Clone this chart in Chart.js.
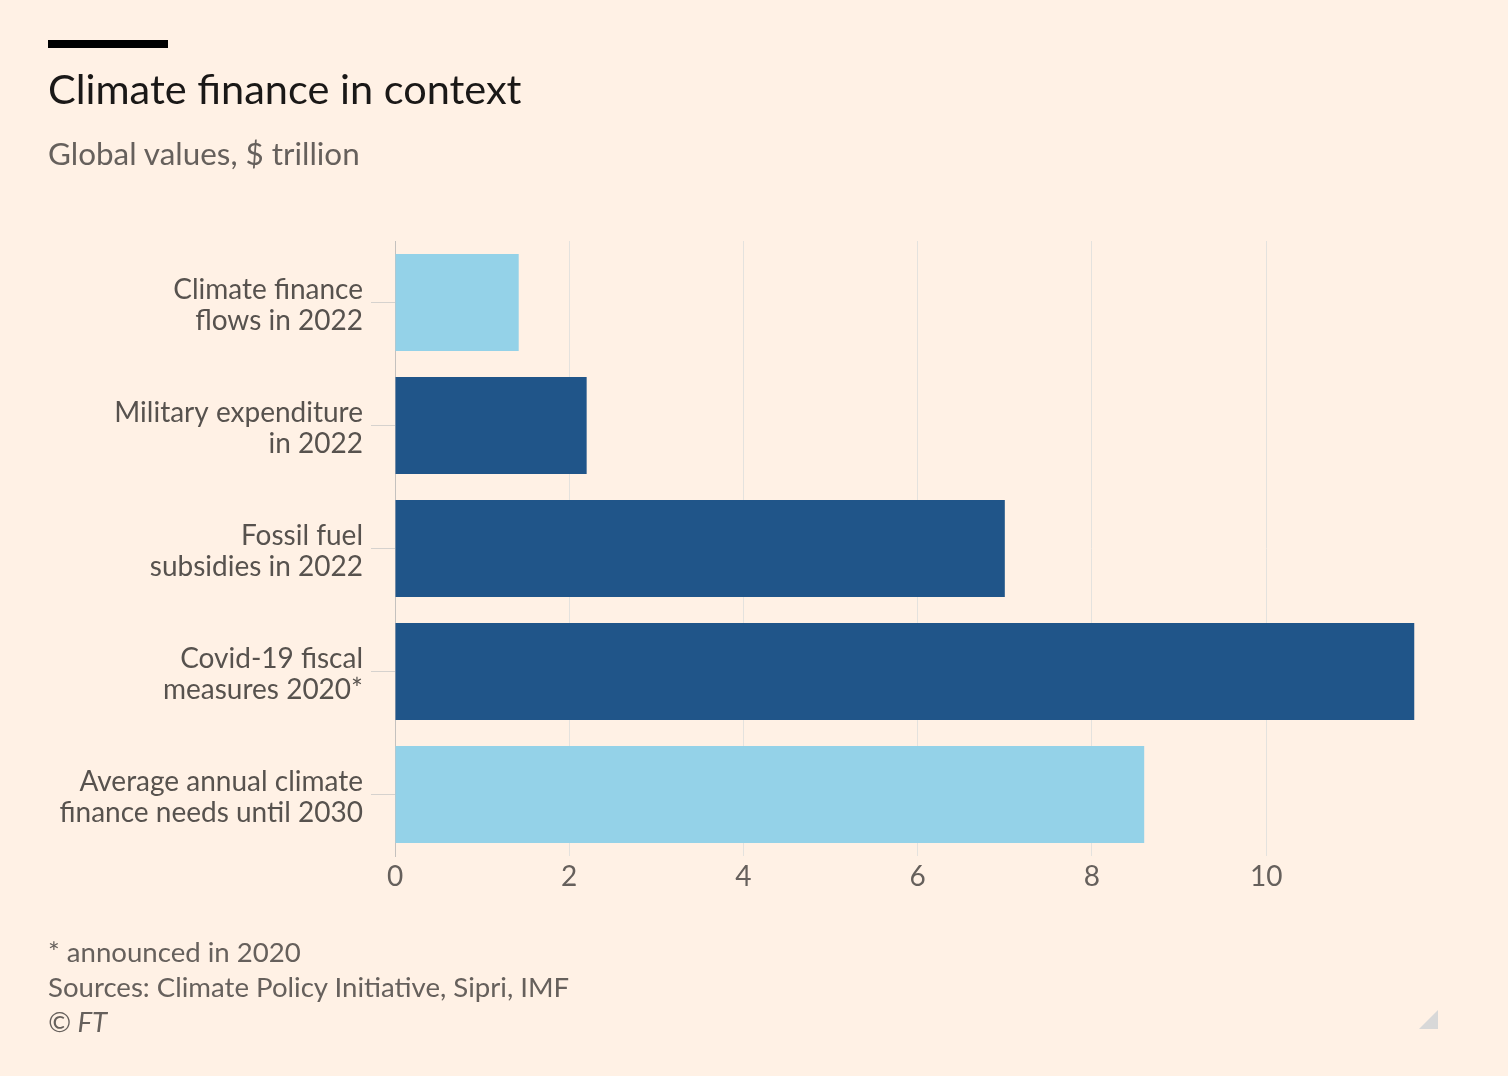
<!DOCTYPE html>
<html>
<head>
<meta charset="utf-8">
<script src="https://cdn.jsdelivr.net/npm/chart.js@4"></script>
<style>
  html, body { margin: 0; padding: 0; background: #FFF1E5; }
  body { width: 1508px; height: 1076px; position: relative; overflow: hidden; font-family: Lato, "Noto Sans", sans-serif; }
  #wrap { position: absolute; left: 0; top: 0; width: 1508px; height: 1076px; }
  .bar { position: absolute; left: 48px; top: 40px; width: 120px; height: 8px; background: #000; }
  .title { position: absolute; left: 48px; top: 63px; font-size: 41.5px; color: #1a1817; white-space: nowrap; }
  .sub { position: absolute; left: 48px; top: 134px; font-size: 31.4px; color: #66605c; white-space: nowrap; }
  .foot { position: absolute; left: 48px; font-size: 27.6px; color: #66605c; white-space: nowrap; }
  .tri { position: absolute; left: 1419px; top: 1010px; width: 19px; height: 19px; background: #d8d8d8; clip-path: polygon(100% 0, 100% 100%, 0 100%); }
</style>
</head>
<body>
<div id="wrap"><canvas id="c" width="1508" height="1076"></canvas></div>
<div class="bar"></div>
<div class="title">Climate finance in context</div>
<div class="sub">Global values, $ trillion</div>
<div class="foot" style="top:935px">* announced in 2020</div>
<div class="foot" style="top:970px">Sources: Climate Policy Initiative, Sipri, IMF</div>
<div class="foot" style="top:1005px;font-style:italic">© FT</div>
<div class="tri"></div>
<script>
const categories = [
  ["Climate finance", "flows in 2022"],
  ["Military expenditure", "in 2022"],
  ["Fossil fuel", "subsidies in 2022"],
  ["Covid-19 fiscal", "measures 2020*"],
  ["Average annual climate", "finance needs until 2030"]
];
const values = [1.42, 2.2, 7.0, 11.7, 8.6];
const barColors = ["#94D2E8", "#205589", "#205589", "#205589", "#94D2E8"];
const xTicks = [0, 2, 4, 6, 8, 10];

new Chart(document.getElementById('c'), {
  type: 'bar',
  data: {
    labels: categories,
    datasets: [{
      data: values,
      backgroundColor: barColors,
      borderWidth: 0,
      categoryPercentage: 1.0,
      barPercentage: 0.79
    }]
  },
  options: {
    indexAxis: 'y',
    responsive: false,
    animation: false,
    devicePixelRatio: 1,
    layout: { padding: { left: 0, top: 241, right: 92, bottom: 170 } },
    plugins: { legend: { display: false }, tooltip: { enabled: false } },
    scales: {
      x: {
        min: 0, max: 11.72,
        afterBuildTicks: (s) => { s.ticks = xTicks.map(v => ({ value: v })); },
        afterFit: (s) => { s.height = 50; },
        grid: { color: '#e4e2de', lineWidth: 1, drawTicks: false },
        border: { display: false },
        ticks: { color: '#66605c', font: { family: 'Lato', size: 28 }, padding: 4 }
      },
      y: {
        afterFit: (s) => { s.width = 395; },
        grid: { offset: false, drawOnChartArea: false, drawTicks: true, tickLength: 24, color: '#d6d2ce' },
        border: { display: true, color: '#c4c1be', width: 1 },
        ticks: { color: '#57524e', font: { family: 'Lato', size: 28, lineHeight: 1.14 }, padding: 8, labelOffset: 3 }
      }
    }
  }
});
</script>
</body>
</html>
